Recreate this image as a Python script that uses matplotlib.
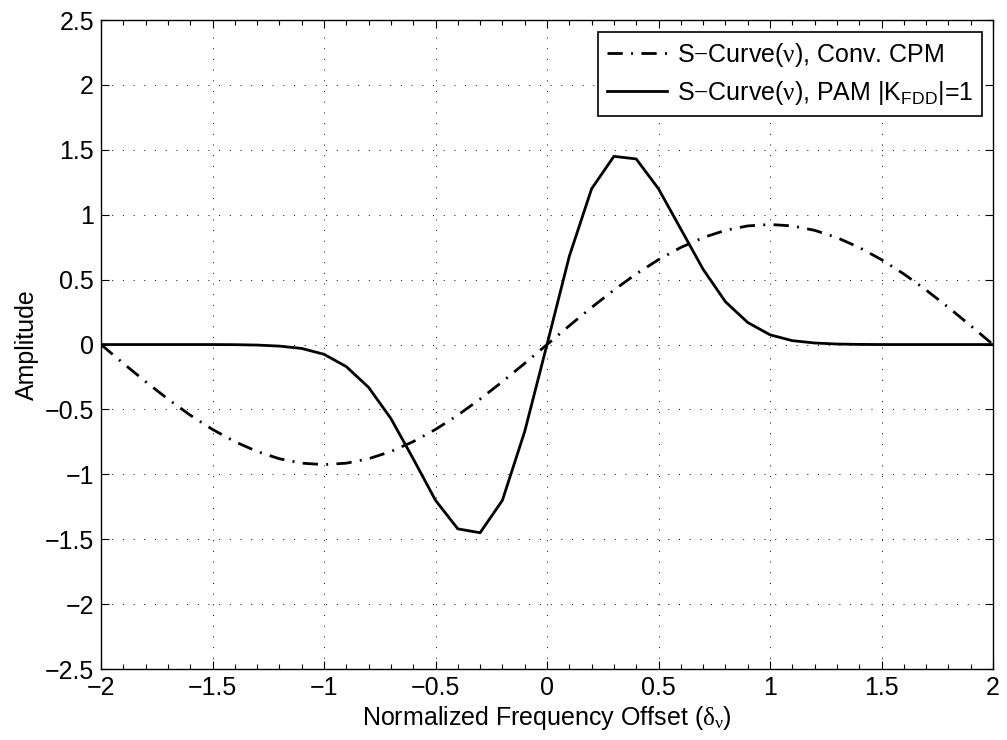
import numpy as np
import matplotlib.pyplot as plt
from matplotlib.ticker import MultipleLocator

plt.rcParams['font.family'] = ['Liberation Sans', 'DejaVu Sans']
plt.rcParams['mathtext.fontset'] = 'custom'
plt.rcParams['mathtext.rm'] = 'Liberation Serif'
plt.rcParams['mathtext.sf'] = 'Liberation Sans'

# frequency offset grid (step 0.1)
offset = np.round(np.arange(-2.0, 2.01, 0.1), 1)

# S-curve of the conventional CPM detector
s_cpm = [0.0, -0.145, -0.286, -0.42, -0.544, -0.654, -0.748, -0.824, -0.88, -0.914,
         -0.925, -0.914, -0.88, -0.824, -0.748, -0.654, -0.544, -0.42, -0.286, -0.145,
         0.0,
         0.145, 0.286, 0.42, 0.544, 0.654, 0.748, 0.824, 0.88, 0.914,
         0.925, 0.914, 0.88, 0.824, 0.748, 0.654, 0.544, 0.42, 0.286, 0.145, 0.0]

# S-curve of the PAM based detector, |K_FDD| = 1
s_pam = [0.0, 0.0, 0.0, 0.0, 0.0, 0.0, -0.001, -0.004, -0.012, -0.03,
         -0.075, -0.17, -0.33, -0.57, -0.88, -1.20, -1.42, -1.45, -1.20, -0.67,
         0.0,
         0.68, 1.20, 1.45, 1.43, 1.20, 0.89, 0.58, 0.33, 0.17,
         0.075, 0.03, 0.012, 0.004, 0.001, 0.0, 0.0, 0.0, 0.0, 0.0, 0.0]

xticks = np.arange(-2, 2.01, 0.5)
xticklabels = ['\u22122', '\u22121.5', '\u22121', '\u22120.5', '0', '0.5', '1', '1.5', '2']
yticks = np.arange(-2.5, 2.51, 0.5)
yticklabels = ['\u22122.5', '\u22122', '\u22121.5', '\u22121', '\u22120.5', '0',
               '0.5', '1', '1.5', '2', '2.5']

FS = 18

fig = plt.figure(figsize=(10.07, 7.40), dpi=100)
ax = fig.add_axes([0.1003, 0.0959, 0.8858, 0.8770])

l1, = ax.plot(offset, s_cpm, color='k', lw=2.0, linestyle='-',
              label=r'S$-$Curve($\mathrm{\nu}$), Conv. CPM')
l1.set_dashes([5.5, 3, 0.7, 3])
ax.plot(offset, s_pam, color='k', lw=2.0, linestyle='-',
        label=r'S$-$Curve($\mathrm{\nu}$), PAM |K$_{\mathsf{FDD}}$|=1')

ax.set_xlim(-2, 2)
ax.set_ylim(-2.5, 2.5)
ax.set_xticks(xticks)
ax.set_xticklabels(xticklabels)
ax.xaxis.set_minor_locator(MultipleLocator(0.1))
ax.set_yticks(yticks)
ax.set_yticklabels(yticklabels)

ax.tick_params(which='both', direction='in', top=True, right=True, labelsize=FS, pad=5)
ax.tick_params(which='major', length=6, width=0.8)
ax.tick_params(which='minor', length=3.5, width=0.8)
for sp in ax.spines.values():
    sp.set_linewidth(1.0)

ax.grid(True, which='major', color='k', linestyle=(0, (1, 10)), lw=0.7)

ax.set_xlabel(r'Normalized Frequency Offset ($\mathrm{\delta_{\nu}}$)', fontsize=FS, labelpad=3)
ax.set_ylabel('Amplitude', fontsize=FS, labelpad=4)

leg = ax.legend(loc='upper right', bbox_to_anchor=(0.9877, 0.9815), fontsize=FS,
                fancybox=False, framealpha=1, edgecolor='k', borderaxespad=0,
                handlelength=2.4, borderpad=0.35, labelspacing=0.4, handletextpad=0.4)
leg.get_frame().set_linewidth(1.2)

fig.savefig('out.png', dpi=100)
